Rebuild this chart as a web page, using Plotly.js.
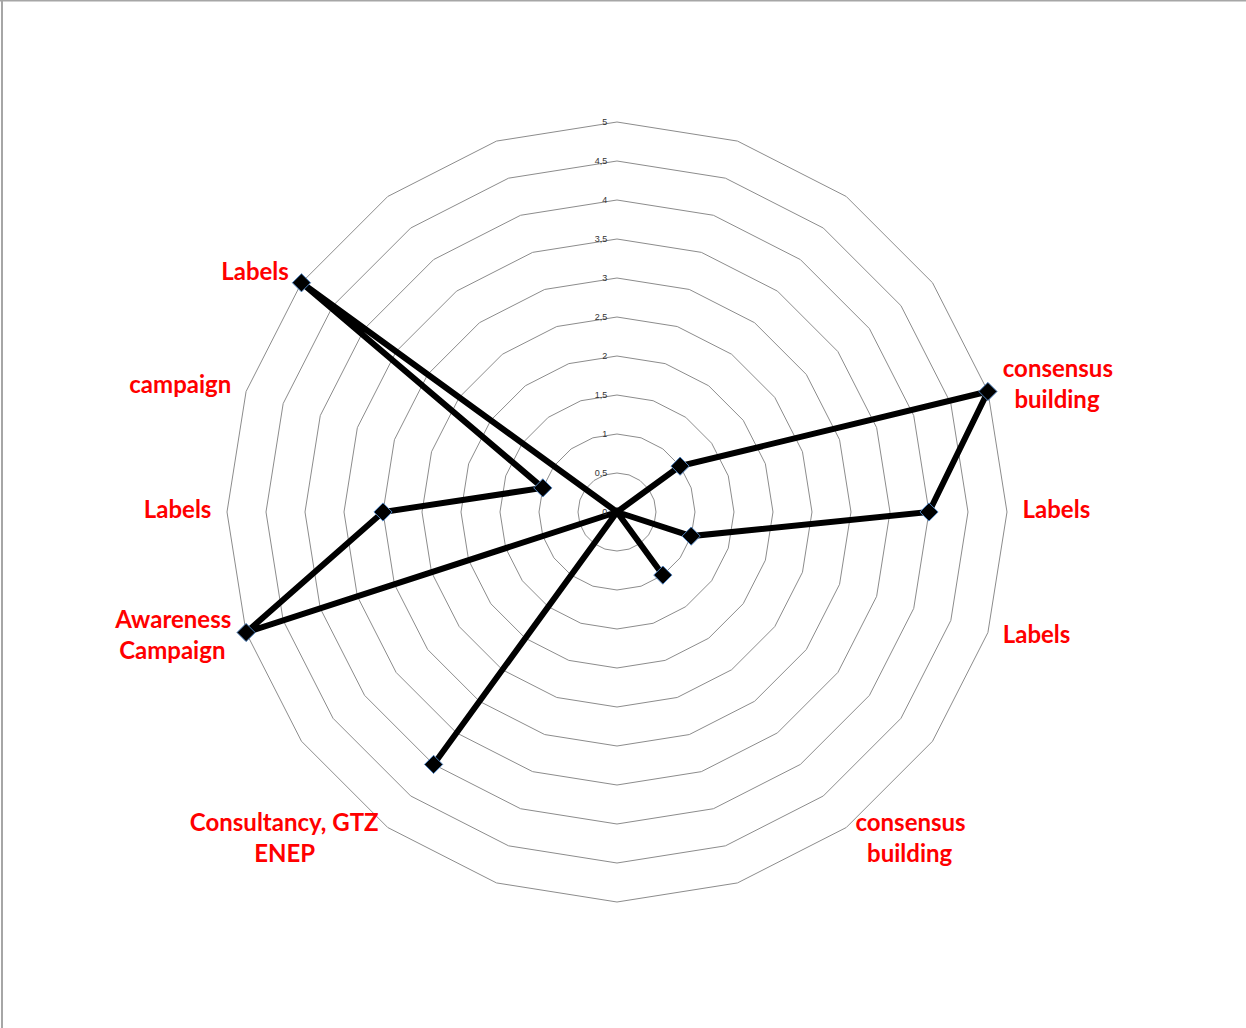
<!DOCTYPE html>
<html>
<head>
<meta charset="utf-8">
<script src="https://cdn.plot.ly/plotly-3.0.1.min.js"></script>
<style>html,body{margin:0;padding:0;background:#fff;}#chart{width:1246px;height:1028px;}</style>
</head>
<body>
<div id="chart"></div>
<script>
// 20 radar spokes, clockwise from the top (non-breaking spaces centre the shorter line)
const categoryLabels = ["", "", "", "", "consensus<br>\u00a0\u00a0building", "Labels", "Labels", "", "consensus<br>\u00a0\u00a0building", "", "", "", "Consultancy, GTZ<br>ENEP\u00a0\u00a0\u00a0\u00a0\u00a0\u00a0\u00a0\u00a0\u00a0\u00a0\u00a0", "", "Awareness<br>Campaign\u00a0", "Labels", "campaign", "Labels", "", ""];
const seriesValues = [0, 0, 0, 1, 5, 4, 1, 0, 1, 0, 0, 0, 4, 0, 5, 3, 1, 5, 0, 0];
const radialTicks = [0, 0.5, 1, 1.5, 2, 2.5, 3, 3.5, 4, 4.5, 5];

const n = categoryLabels.length;
const keys = categoryLabels.map((_, i) => "k" + i);
const theta = keys.concat([keys[0]]);
const r = seriesValues.concat([seriesValues[0]]);
const rMax = radialTicks[radialTicks.length - 1];
const labelRadius = rMax * 1.04;

const trace = {
  type: "scatterpolar",
  mode: "lines+markers",
  theta: theta,
  r: r,
  line: {color: "#000000", width: 6},
  marker: {symbol: "diamond", size: 14, color: "#000000", line: {color: "#4f81bd", width: 1}},
  cliponaxis: false,
  hoverinfo: "skip"
};

// category labels placed just outside the outer ring, on the side the spoke points to
const labelTrace = {
  type: "scatterpolar",
  mode: "text",
  theta: keys,
  r: keys.map(() => labelRadius),
  text: categoryLabels,
  textposition: keys.map((_, i) => (i === 0 || i === n / 2) ? "middle center" : (i < n / 2 ? "middle right" : "middle left")),
  textfont: {family: "Lato, 'Open Sans', sans-serif", size: 24, color: "#ff0000", weight: "bold"},
  cliponaxis: false,
  hoverinfo: "skip"
};

const layout = {
  width: 1246, height: 1028,
  margin: {l: 0, r: 0, t: 0, b: 0},
  paper_bgcolor: "#ffffff",
  showlegend: false,
  separators: ", ",
  polar: {
    domain: {x: [0.166533, 0.823836], y: [0.103599, 0.900292]},
    bgcolor: "rgba(0,0,0,0)",
    gridshape: "linear",
    radialaxis: {
      range: [0, rMax * 1.05],
      tickmode: "array",
      tickvals: radialTicks,
      showline: false,
      ticks: "outside",
      ticklen: 6,
      tickcolor: "rgba(0,0,0,0)",
      angle: 90,
      tickangle: 90,
      side: "counterclockwise",
      gridcolor: "#8c8c8c",
      gridwidth: 1,
      tickfont: {family: "Liberation Sans, Arial, sans-serif", size: 9, color: "#333333"}
    },
    angularaxis: {
      type: "category",
      categoryarray: keys,
      rotation: 90,
      direction: "clockwise",
      showgrid: false,
      showline: false,
      ticks: "",
      showticklabels: false
    }
  },
  shapes: [
    {type: "line", xref: "paper", yref: "paper", x0: 0, x1: 1, y0: 0.9995, y1: 0.9995, line: {color: "#a6a6a6", width: 2}},
    {type: "line", xref: "paper", yref: "paper", x0: 0.0016, x1: 0.0016, y0: 0, y1: 1, line: {color: "#a6a6a6", width: 2}}
  ]
};

Plotly.newPlot("chart", [trace, labelTrace], layout, {displayModeBar: false, staticPlot: true});
</script>
</body>
</html>
